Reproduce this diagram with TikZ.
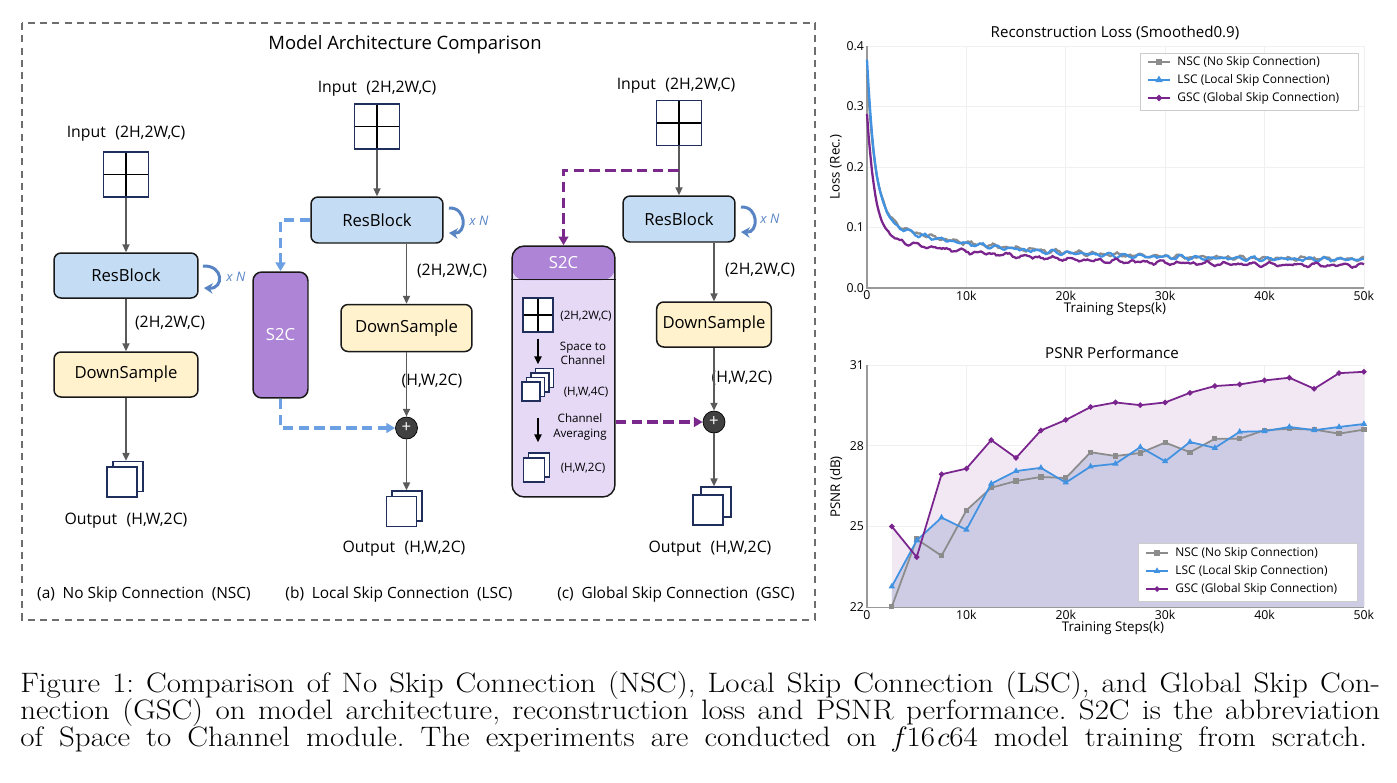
\documentclass[tikz,border=0pt]{standalone}
\usepackage{fontspec}
\newfontfamily\diagfont{Open Sans}
\newfontfamily\capfont{Latin Modern Roman}[FakeStretch=1.1]
\usetikzlibrary{positioning,arrows.meta,plotmarks,calc}

\definecolor{resfill}{RGB}{197,221,244}
\definecolor{dsfill}{RGB}{255,242,204}
\definecolor{gridnavy}{RGB}{32,46,92}
\definecolor{flowgray}{RGB}{90,90,90}
\definecolor{skipblue}{RGB}{108,160,226}
\definecolor{skippurple}{RGB}{123,40,140}
\definecolor{s2cpurple}{RGB}{174,132,215}
\definecolor{s2cbody}{RGB}{229,217,246}
\definecolor{plusgray}{RGB}{64,64,64}
\definecolor{repblue}{RGB}{88,132,196}
\definecolor{framegray}{RGB}{110,110,110}
\definecolor{nscgray}{RGB}{140,140,140}
\definecolor{lscblue}{RGB}{66,146,226}
\definecolor{gscpurple}{RGB}{122,36,142}
\definecolor{gscarea}{RGB}{241,232,244}
\definecolor{basearea}{RGB}{206,204,228}

\tikzset{
  framebox/.style={draw=framegray, line width=0.7pt, dash pattern=on 4pt off 3pt},
  titletext/.style={font=\diagfont\fontsize{10.5}{12}\selectfont},
  lbl/.style={font=\diagfont\fontsize{9}{11}\selectfont, inner sep=1pt},
  smalllbl/.style={font=\diagfont\fontsize{6.6}{8}\selectfont, inner sep=0.5pt},
  subcap/.style={font=\diagfont\fontsize{8.8}{10}\selectfont},
  block/.style={draw=black!90, line width=0.85pt, rounded corners=4pt, font=\diagfont\fontsize{9.5}{11}\selectfont},
  resblock/.style={block, fill=resfill},
  downblock/.style={block, fill=dsfill},
  gridbox/.style={draw=gridnavy, line width=0.75pt, fill=white, minimum size=0.9cm, inner sep=0pt,
    path picture={\draw[black, line width=0.6pt]
      (path picture bounding box.north) -- (path picture bounding box.south)
      (path picture bounding box.west) -- (path picture bounding box.east);}},
  sheet/.style={draw=gridnavy, line width=0.75pt, fill=white, minimum width=0.6cm, minimum height=0.6cm, inner sep=0pt},
  flow/.style={draw=flowgray, line width=0.9pt, -{Triangle[length=4.5pt,width=4pt]}},
  innerflow/.style={draw=black, line width=1.1pt, -{Triangle[length=4.5pt,width=4pt]}},
  skipb/.style={draw=skipblue, line width=1.9pt, dash pattern=on 6pt off 3pt, -{Triangle[length=5pt,width=5.5pt]}},
  skipc/.style={draw=skippurple, line width=1.9pt, dash pattern=on 6pt off 3pt, -{Triangle[length=5pt,width=5.5pt]}},
  s2csmall/.style={draw=black!90, line width=0.85pt, rounded corners=5pt, fill=s2cpurple, text=white,
    minimum width=1.1cm, minimum height=2.52cm, font=\diagfont\fontsize{9.5}{11}\selectfont},
  s2cbig/.style={draw=black!90, line width=0.85pt, rounded corners=7pt, fill=s2cbody,
    minimum width=2.06cm, minimum height=5.02cm,
    path picture={\fill[s2cpurple] (path picture bounding box.north west) rectangle ([yshift=-0.68cm]path picture bounding box.north east);}},
  s2chead/.style={text=white, font=\diagfont\fontsize{9.5}{11}\selectfont},
  plusnode/.style={circle, draw=black, fill=plusgray, minimum size=0.44cm, inner sep=0pt, text=white,
    font=\diagfont\fontsize{9.5}{9.5}\selectfont},
  repeatar/.style={draw=repblue, line width=1.7pt, -{Stealth[length=5pt,width=6pt]}},
  replbl/.style={text=repblue, font=\diagfont\itshape\fontsize{7.5}{9}\selectfont},
  charttitle/.style={font=\diagfont\fontsize{8.6}{10}\selectfont},
  axtitle/.style={font=\diagfont\fontsize{7.6}{9}\selectfont},
  ticklbl/.style={font=\diagfont\fontsize{7}{8}\selectfont, inner sep=1.5pt},
  legtext/.style={font=\diagfont\fontsize{6.8}{8}\selectfont, inner sep=0pt},
  legbox/.style={draw=black!20, fill=white, line width=0.5pt},
  gridln/.style={draw=black!6, line width=0.4pt},
  axisln/.style={draw=black!40, line width=0.6pt},
  nscln/.style={draw=nscgray, line width=1.3pt, mark options={fill=nscgray, draw=nscgray}},
  lscln/.style={draw=lscblue, line width=1.3pt, mark options={fill=lscblue, draw=lscblue}},
  gscln/.style={draw=gscpurple, line width=1.3pt, mark options={fill=gscpurple, draw=gscpurple}},
  captext/.style={font=\capfont\fontsize{16}{19}\selectfont\frenchspacing, inner sep=0pt},
}

\begin{document}
\begin{tikzpicture}[x=0.02cm, y=-0.02cm]
\useasboundingbox (0,0) rectangle (1397,782);

% architecture panel
\draw[framebox] (22,23) rectangle (815,620);
\node[titletext] (archtitle) at (405,45) {Model Architecture Comparison};

% (a) no skip connection
\node[gridbox] (inA) at (126,174.5) {};
\node[lbl] (inAlbl) at (126,134) {Input\hspace{0.6em}(2H,2W,C)};
\node[resblock, minimum width=2.88cm, minimum height=0.9cm] (rbA) at (126,275.5) {ResBlock};
\node[downblock, minimum width=2.88cm, minimum height=0.9cm] (dsA) at (126,374.5) {DownSample};
\node[sheet] (outAb) at (128,476.5) {};
\node[sheet] (outAf) at (122,482) {};
\node[lbl] (outAlbl) at (126,521) {Output\hspace{0.6em}(H,W,2C)};
\node[lbl] (midAlbl) at (170,323) {(2H,2W,C)};
\coordinate (repA1) at (203,266);
\coordinate (repA2) at (204,288);
\node[replbl] (nA) at (236,277) {x N};
\draw[flow] (inA) -- (rbA);
\draw[flow] (rbA) -- (dsA);
\draw[flow] (dsA.south) -- (dsA.south |- outAb.north);
\draw[repeatar] (repA1) .. controls (224,265) and (224,289) .. (repA2);
\node[subcap] (capA) at (144,594) {(a)\hspace{0.5em}No Skip Connection\hspace{0.5em}(NSC)};

% (b) local skip connection
\node[gridbox] (inB) at (377,126.5) {};
\node[lbl] (inBlbl) at (377,89) {Input\hspace{0.6em}(2H,2W,C)};
\node[resblock, minimum width=2.64cm, minimum height=0.92cm] (rbB) at (377,220) {ResBlock};
\node[downblock, minimum width=2.62cm, minimum height=0.94cm] (dsB) at (406.5,328) {DownSample};
\node[s2csmall] (s2cB) at (280.5,335) {S2C};
\node[plusnode] (plusB) at (406.5,428) {+};
\node[sheet] (outBb) at (407,506) {};
\node[sheet] (outBf) at (401.5,511.5) {};
\node[lbl] (outBlbl) at (404,549) {Output\hspace{0.6em}(H,W,2C)};
\node[lbl] (midBlbl) at (452,271) {(2H,2W,C)};
\node[lbl] (lowBlbl) at (432,381) {(H,W,2C)};
\coordinate (repB1) at (449,208);
\coordinate (repB2) at (449,233);
\node[replbl] (nB) at (479,221) {x N};
\draw[flow] (inB) -- (rbB);
\draw[flow] (rbB.south -| dsB.north) -- (dsB.north);
\draw[flow] (dsB) -- (plusB);
\draw[flow] (plusB.south) -- (plusB.south |- outBb.north);
\draw[skipb] (rbB.west) -| (s2cB.north);
\draw[skipb] (s2cB.south) |- (plusB.west);
\draw[repeatar] (repB1) .. controls (467,207) and (467,234) .. (repB2);
\node[subcap] (capB) at (399,594) {(b)\hspace{0.5em}Local Skip Connection\hspace{0.5em}(LSC)};

% (c) global skip connection
\node[gridbox] (inC) at (679,123) {};
\node[lbl] (inClbl) at (676,86) {Input\hspace{0.6em}(2H,2W,C)};
\node[resblock, minimum width=2.24cm, minimum height=0.92cm] (rbC) at (679,219) {ResBlock};
\node[downblock, minimum width=2.24cm, minimum height=0.9cm] (dsC) at (714,324.5) {DownSample};
\node[s2cbig] (s2cC) at (563.5,371.5) {};
\draw[draw=black!90, line width=0.85pt] ([yshift=-0.68cm]s2cC.north west) -- ([yshift=-0.68cm]s2cC.north east);
\node[s2chead] (s2cClbl) at (563.5,263) {S2C};
\node[gridbox, minimum width=0.6cm, minimum height=0.68cm] (s2cIn) at (538,315) {};
\node[smalllbl] (s2cInlbl) at (586,316) {(2H,2W,C)};
\node[smalllbl, align=center] (s2cStep1) at (583,353) {Space to\\Channel};
\node[sheet, minimum width=0.36cm, minimum height=0.38cm] (s4d) at (544.5,378) {};
\node[sheet, minimum width=0.36cm, minimum height=0.38cm] (s4c) at (540,382.5) {};
\node[sheet, minimum width=0.36cm, minimum height=0.38cm] (s4b) at (535.5,387) {};
\node[sheet, minimum width=0.36cm, minimum height=0.38cm] (s4a) at (531,391.5) {};
\node[smalllbl] (s2cMidlbl) at (586,392) {(H,W,4C)};
\node[smalllbl, align=center] (s2cStep2) at (580,427) {Channel\\Averaging};
\node[sheet, minimum width=0.42cm, minimum height=0.48cm] (s2b) at (539,465) {};
\node[sheet, minimum width=0.42cm, minimum height=0.48cm] (s2a) at (534,470) {};
\node[smalllbl] (s2cOutlbl) at (583,468) {(H,W,2C)};
\draw[innerflow, shorten <=0.12cm, shorten >=0.07cm] (s2cIn.south) -- (s2cIn.south |- s4d.north);
\draw[innerflow, shorten <=0.32cm, shorten >=0.2cm] (s2cIn.south |- s4a.south) -- (s2cIn.south |- s2b.north);
\node[plusnode] (plusC) at (714,422) {+};
\node[sheet] (outCb) at (716,502) {};
\node[sheet] (outCf) at (708,510) {};
\node[lbl] (outClbl) at (710,549) {Output\hspace{0.6em}(H,W,2C)};
\node[lbl] (midClbl) at (760,270) {(2H,2W,C)};
\node[lbl] (lowClbl) at (742,378) {(H,W,2C)};
\coordinate (forkC) at ($(inC.south)!0.5!(rbC.north)$);
\coordinate (repC1) at (741,207);
\coordinate (repC2) at (741,232);
\node[replbl] (nC) at (770,219) {x N};
\draw[flow] (inC) -- (rbC);
\draw[skipc] (forkC) -| (s2cC.north);
\draw[flow] (rbC.south -| dsC.north) -- (dsC.north);
\draw[flow] (dsC) -- (plusC);
\draw[flow] (plusC.south) -- (plusC.south |- outCb.north);
\draw[skipc] (s2cC.east |- plusC) -- (plusC.west);
\draw[repeatar] (repC1) .. controls (759,206) and (759,233) .. (repC2);
\node[subcap] (capC) at (676,594) {(c)\hspace{0.5em}Global Skip Connection\hspace{0.5em}(GSC)};

% reconstruction loss
\node[charttitle] (lossTitle) at (1115,33) {Reconstruction Loss (Smoothed0.9)};
\node[axtitle, rotate=90] (lossYlbl) at (836,167) {Loss (Rec.)};
\node[axtitle] (lossXlbl) at (1115,309) {Training Steps(k)};
\begin{scope}[shift={(867,288)}, x=0.1988cm, y=12.1cm]
  \foreach \k in {10,20,30,40,50} \draw[gridln] (\k,0) -- (\k,0.4);
  \foreach \v in {0.1,0.2,0.3,0.4} \draw[gridln] (0,\v) -- (50,\v);
  \draw[axisln] (0,0.4) -- (0,0) -- (50,0);
  \foreach \v [count=\i] in {0.0,0.1,0.2,0.3,0.4}
    \node[ticklbl, anchor=east] (ly\i) at (0,\v) {\v};
  \foreach \k/\s in {0/0,10/10k,20/20k,30/30k,40/40k,50/50k}
    \node[ticklbl, anchor=north] (lx\k) at (\k,0) {\s};
  \pgfmathsetseed{11}
  \draw[nscln] plot[domain=0:50, samples=301, variable=\t]
    (\t, {0.047+0.24*exp(-\t/0.9)+0.065*exp(-\t/12)+0.002*sin(290*\t)+0.0015*sin(173*\t+40)+0.0012*rand});
  \draw[lscln] plot[domain=0:50, samples=301, variable=\t]
    (\t, {0.046+0.265*exp(-\t/0.85)+0.064*exp(-\t/12)+0.002*sin(251*\t+70)+0.0015*sin(197*\t)+0.0012*rand});
  \draw[gscln] plot[domain=0:50, samples=301, variable=\t]
    (\t, {0.036+0.2*exp(-\t/0.8)+0.05*exp(-\t/14)+0.002*sin(233*\t+20)+0.0015*sin(161*\t)+0.0012*rand});
\end{scope}
\draw[legbox] (1140,53) rectangle (1358,110);
\draw[nscln] (1148,62) -- (1170,62) plot[mark=square*, mark size=1pt] coordinates {(1159,62)};
\draw[lscln] (1148,80) -- (1170,80) plot[mark=triangle*, mark size=1.2pt] coordinates {(1159,80)};
\draw[gscln] (1148,98) -- (1170,98) plot[mark=*, mark size=1pt] coordinates {(1159,98)};
\node[legtext, anchor=west] (lossLeg1) at (1177,62) {NSC (No Skip Connection)};
\node[legtext, anchor=west] (lossLeg2) at (1177,80) {LSC (Local Skip Connection)};
\node[legtext, anchor=west] (lossLeg3) at (1177,98) {GSC (Global Skip Connection)};

% psnr performance
\node[charttitle] (psnrTitle) at (1112,353) {PSNR Performance};
\node[axtitle, rotate=90] (psnrYlbl) at (836,487) {PSNR (dB)};
\node[axtitle] (psnrXlbl) at (1113,628) {Training Steps(k)};
\begin{scope}[shift={(867,1198.8)}, x=0.1988cm, y=0.538cm]
  \foreach \k in {10,20,30,40,50} \draw[gridln] (\k,22) -- (\k,31);
  \foreach \v in {25,28,31} \draw[gridln] (0,\v) -- (50,\v);
  \fill[gscarea] (2.5,22) -- plot coordinates {(2.5,25.0) (5,23.86) (7.5,26.94) (10,27.15) (12.5,28.21) (15,27.55) (17.5,28.57) (20,28.96) (22.5,29.44) (25,29.61) (27.5,29.51) (30,29.61) (32.5,29.97) (35,30.22) (37.5,30.28) (40,30.43) (42.5,30.53) (45,30.12) (47.5,30.70) (50,30.75)} -- (50,22) -- cycle;
  \fill[basearea] (2.5,22) -- plot coordinates {(2.5,22.02) (5,24.53) (7.5,23.91) (10,25.60) (12.5,26.44) (15,26.69) (17.5,26.84) (20,26.80) (22.5,27.76) (25,27.62) (27.5,27.73) (30,28.12) (32.5,27.76) (35,28.26) (37.5,28.26) (40,28.58) (42.5,28.63) (45,28.60) (47.5,28.45) (50,28.60)} -- (50,22) -- cycle;
  \fill[basearea] (2.5,22) -- plot coordinates {(2.5,22.77) (5,24.48) (7.5,25.33) (10,24.88) (12.5,26.59) (15,27.06) (17.5,27.18) (20,26.63) (22.5,27.23) (25,27.33) (27.5,27.95) (30,27.42) (32.5,28.14) (35,27.92) (37.5,28.52) (40,28.54) (42.5,28.70) (45,28.58) (47.5,28.70) (50,28.81)} -- (50,22) -- cycle;
  \draw[axisln] (0,31) -- (0,22) -- (50,22);
  \foreach \v in {22,25,28,31}
    \node[ticklbl, anchor=east] (py\v) at (0,\v) {\v};
  \foreach \k/\s in {0/0,10/10k,20/20k,30/30k,40/40k,50/50k}
    \node[ticklbl, anchor=north] (px\k) at (\k,22) {\s};
  \draw[nscln, line width=1pt] plot[mark=square*, mark size=1pt] coordinates {(2.5,22.02) (5,24.53) (7.5,23.91) (10,25.60) (12.5,26.44) (15,26.69) (17.5,26.84) (20,26.80) (22.5,27.76) (25,27.62) (27.5,27.73) (30,28.12) (32.5,27.76) (35,28.26) (37.5,28.26) (40,28.58) (42.5,28.63) (45,28.60) (47.5,28.45) (50,28.60)};
  \draw[lscln, line width=1pt] plot[mark=triangle*, mark size=1.1pt] coordinates {(2.5,22.77) (5,24.48) (7.5,25.33) (10,24.88) (12.5,26.59) (15,27.06) (17.5,27.18) (20,26.63) (22.5,27.23) (25,27.33) (27.5,27.95) (30,27.42) (32.5,28.14) (35,27.92) (37.5,28.52) (40,28.54) (42.5,28.70) (45,28.58) (47.5,28.70) (50,28.81)};
  \draw[gscln, line width=1pt] plot[mark=*, mark size=1pt] coordinates {(2.5,25.0) (5,23.86) (7.5,26.94) (10,27.15) (12.5,28.21) (15,27.55) (17.5,28.57) (20,28.96) (22.5,29.44) (25,29.61) (27.5,29.51) (30,29.61) (32.5,29.97) (35,30.22) (37.5,30.28) (40,30.43) (42.5,30.53) (45,30.12) (47.5,30.70) (50,30.75)};
\end{scope}
\draw[legbox] (1138,543) rectangle (1357,601);
\draw[nscln, line width=1pt] (1146,553) -- (1168,553) plot[mark=square*, mark size=1pt] coordinates {(1157,553)};
\draw[lscln, line width=1pt] (1146,571) -- (1168,571) plot[mark=triangle*, mark size=1.1pt] coordinates {(1157,571)};
\draw[gscln, line width=1pt] (1146,589) -- (1168,589) plot[mark=*, mark size=1pt] coordinates {(1157,589)};
\node[legtext, anchor=west] (psnrLeg1) at (1175,553) {NSC (No Skip Connection)};
\node[legtext, anchor=west] (psnrLeg2) at (1175,571) {LSC (Local Skip Connection)};
\node[legtext, anchor=west] (psnrLeg3) at (1175,589) {GSC (Global Skip Connection)};

% caption
\node[captext, anchor=base west] (cap1) at (20,692) {\makebox[27.2cm][s]{Figure 1: Comparison of No Skip Connection (NSC), Local Skip Connection (LSC), and Global Skip Con-}};
\node[captext, anchor=base west] (cap2) at (20,719) {\makebox[27.2cm][s]{nection (GSC) on model architecture, reconstruction loss and PSNR performance. S2C is the abbreviation}};
\node[captext, anchor=base west] (cap3) at (20,746) {\makebox[26.94cm][s]{of Space to Channel module. The experiments are conducted on \textit{f}16\textit{c}64 model training from scratch.}};
\end{tikzpicture}
\end{document}
